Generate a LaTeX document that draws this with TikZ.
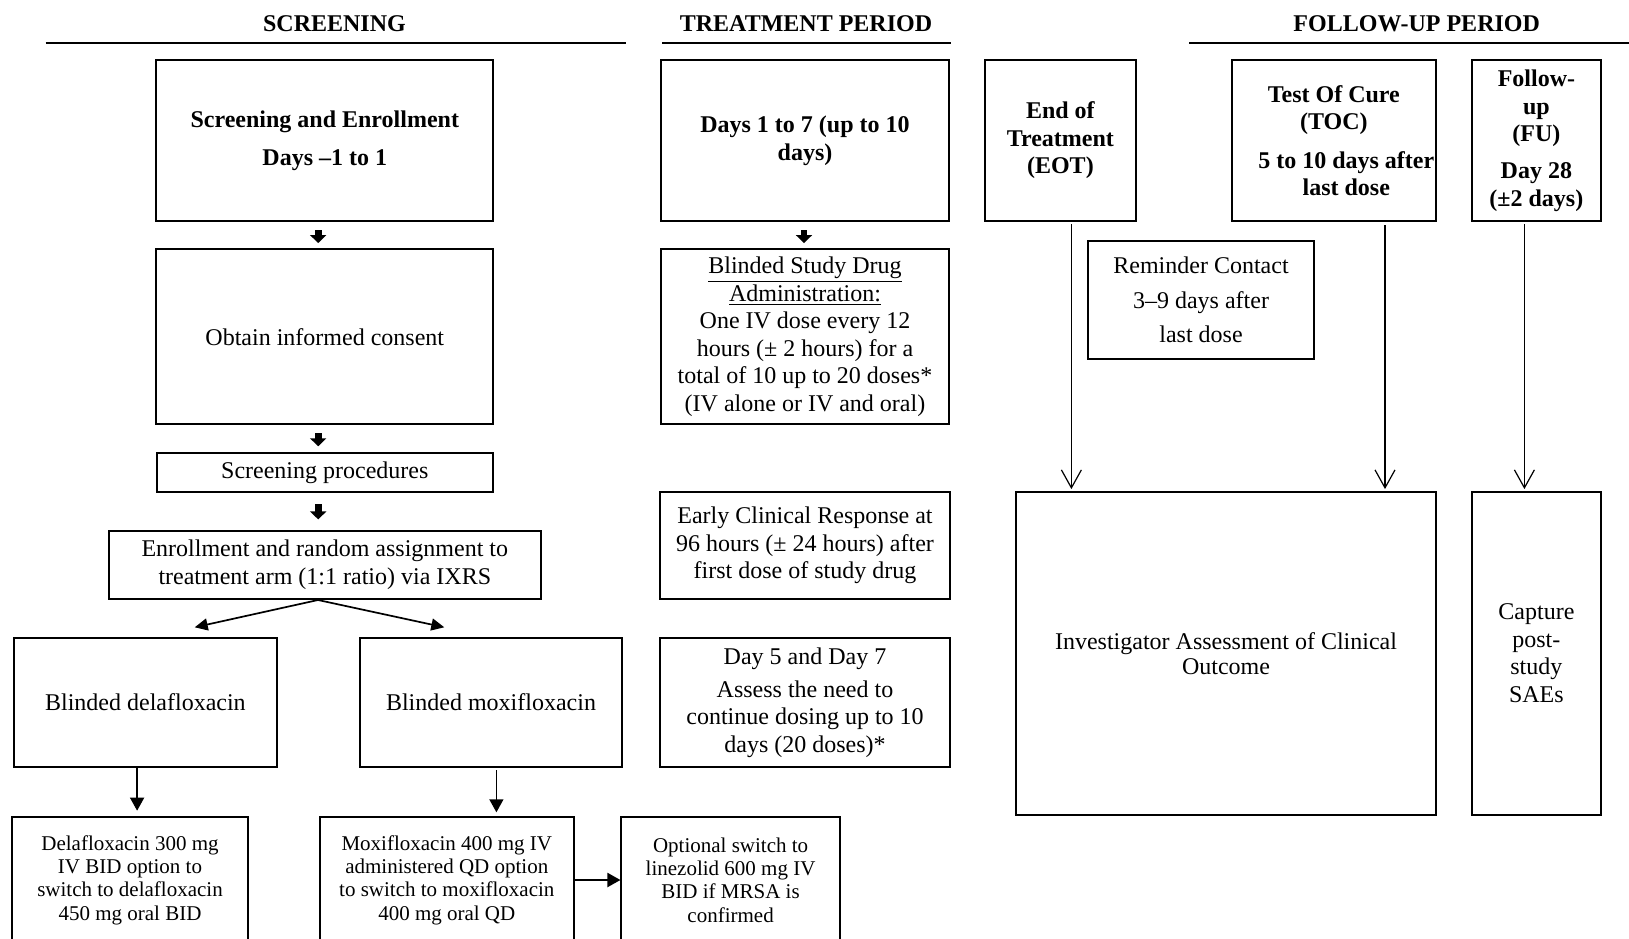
\documentclass[tikz,border=0pt]{standalone}
\usepackage{fontspec}
\setmainfont{Liberation Serif}
\usetikzlibrary{positioning, arrows.meta}

\begin{document}
\begin{tikzpicture}[x=0.5pt, y=-0.5pt, on grid,
    box/.style={draw, line width=1pt, align=center, inner sep=0pt, font=\fontsize{12}{13.8}\selectfont},
    bbox/.style={box, font=\fontsize{12}{13.8}\selectfont\bfseries},
    sbox/.style={box, font=\fontsize{10.5}{11.65}\selectfont},
    head/.style={font=\fontsize{12}{13.8}\selectfont\bfseries},
    rule/.style={line width=1.1pt},
    blk/.style={line width=3.4pt, -{Triangle[width=8pt,length=4pt]}},
    solid arrow/.style={line width=0.75pt, -{Triangle[width=7pt,length=6.5pt]}},
    split arrow/.style={line width=0.85pt, -{Triangle[width=6pt,length=6.5pt]}},
    open arrow/.style={line width=0.6pt, -{Straight Barb[length=9pt,width=10pt]}}]
    \useasboundingbox (0,0) rectangle (1629,938);

    % Headers
    \node[head] (hscr) at (334.5,24) {SCREENING};
    \node[head] (htrt) at (806,24) {TREATMENT PERIOD};
    \node[head] (hfu) at (1416.7,24) {FOLLOW-UP PERIOD};
    \draw[rule] (45.5,43.3) -- (625.5,43.3);
    \draw[rule] (662,43.3) -- (950.7,43.3);
    \draw[rule] (1189,43.3) -- (1629,43.3);

    % Screening column
    \node[bbox, minimum width=168.4pt, minimum height=80.5pt] (scr) at (324.8,140.5)
        {Screening and Enrollment\\[5.2pt]Days –1 to 1};
    \node[box, minimum width=168.4pt, minimum height=87.35pt] (consent) [below=98.1pt of scr]
        {Obtain informed consent};
    \node[box, minimum width=167.9pt, minimum height=19.8pt] (proc) [below=67.9pt of consent]
        {Screening procedures};
    \node[box, minimum width=216.2pt, minimum height=34pt] (enrol) [below=46.25pt of proc]
        {Enrollment and random assignment to\\treatment arm (1:1 ratio) via IXRS};
    \node[box, minimum width=131.65pt, minimum height=64.2pt] (dela) [below left=68.75pt and 89.7pt of enrol]
        {Blinded delafloxacin};
    \node[box, minimum width=130.55pt, minimum height=64.2pt] (moxi) [right=172.8pt of dela]
        {Blinded moxifloxacin};
    \node[sbox, minimum width=118pt, minimum height=63.3pt] (dela300) [below=88.75pt of dela, xshift=-7.7pt]
        {Delafloxacin 300 mg\\IV BID option to\\switch to delafloxacin\\450 mg oral BID};
    \node[sbox, minimum width=127pt, minimum height=63.3pt] (moxi400) [below=88.75pt of moxi, xshift=-22.1pt]
        {Moxifloxacin 400 mg IV\\administered QD option\\to switch to moxifloxacin\\400 mg oral QD};
    \node[sbox, minimum width=109.15pt, minimum height=63.3pt] (linez) [right=141.9pt of moxi400]
        {Optional switch to\\linezolid 600 mg IV\\BID if MRSA is\\confirmed};

    % Treatment column
    \node[bbox, minimum width=144.3pt, minimum height=80.5pt] (days) at (805,140.5)
        {Days 1 to 7 (up to 10\\days)};
    \node[box, minimum width=144.15pt, minimum height=87.35pt] (admin) [below=98.1pt of days]
        {\underline{Blinded Study Drug}\\\underline{Administration:}\\One IV dose every 12\\hours (± 2 hours) for a\\total of 10 up to 20 doses*\\(IV alone or IV and oral)};
    \node[box, minimum width=145pt, minimum height=53.65pt] (ecr) [below=104.3pt of admin]
        {Early Clinical Response at\\96 hours (± 24 hours) after\\first dose of study drug};
    \node[box, minimum width=145pt, minimum height=64.2pt] (day57) [below=78.6pt of ecr]
        {Day 5 and Day 7\\[2.7pt]Assess the need to\\continue dosing up to 10\\days (20 doses)*};

    % Follow-up column
    \node[bbox, minimum width=75.6pt, minimum height=80.5pt] (eot) at (1060.4,140.5)
        {End of\\Treatment\\(EOT)};
    \node[bbox, minimum width=102.15pt, minimum height=80.5pt] (toc) [right=136.7pt of eot]
        {Test Of Cure\\(TOC)\\[5.4pt]\hspace*{12.5pt}5 to 10 days after\\\hspace*{12.5pt}last dose};
    \node[bbox, minimum width=64.8pt, minimum height=80.5pt] (fu) [right=101.3pt of toc]
        {Follow-\\up\\(FU)\\[4.6pt]Day 28\\(±2 days)};
    \node[box, minimum width=113pt, minimum height=59.3pt] (remind) at (1201,300)
        {Reminder Contact\\[3.45pt]3–9 days after\\[3.45pt]last dose};
    \node[box, minimum width=210pt, minimum height=161.65pt] (inv) at (1226,653.35)
        {Investigator Assessment of Clinical\\[-1.3pt]Outcome};
    \node[box, minimum width=64.8pt, minimum height=161.65pt] (sae) [below=256.4pt of fu]
        {Capture\\post-\\study\\SAEs};

    % Arrows
    \path[blk]
        ([xshift=-3.3pt]scr.south) edge[shorten <=4pt, shorten >=2.65pt] ([xshift=-3.3pt]consent.north)
        ([xshift=-3.3pt]consent.south) edge[shorten <=4pt, shorten >=2.7pt] ([xshift=-3.3pt]proc.north)
        ([xshift=-3.3pt]proc.south) edge[shorten <=5.5pt, shorten >=5.3pt] ([xshift=-3.3pt]enrol.north)
        ([xshift=-0.5pt]days.south) edge[shorten <=4pt, shorten >=2.65pt] ([xshift=-0.5pt]admin.north);

    \path[split arrow]
        ([xshift=-3.4pt]enrol.south) edge ([xshift=24.65pt, yshift=5pt]dela.north)
                                     edge ([xshift=-23.35pt, yshift=5pt]moxi.north);

    \path[solid arrow]
        ([xshift=-4.15pt]dela.south) edge[shorten >=2.5pt] ([xshift=-4.15pt]dela.south |- dela300.north)
        ([xshift=2.7pt]moxi.south) edge[shorten <=1.3pt, shorten >=1.7pt] ([xshift=2.7pt]moxi.south |- moxi400.north)
        (moxi400.east) edge[line width=1pt] (linez.west);

    \path[open arrow]
        ([xshift=5.5pt]eot.south) edge[shorten <=1pt, shorten >=0.8pt] ([xshift=5.5pt]eot.south |- inv.north)
        ([xshift=25.6pt]toc.south) edge[shorten <=1.5pt, shorten >=0.8pt] ([xshift=25.6pt]toc.south |- inv.north)
        ([xshift=-6pt]fu.south) edge[shorten <=1pt, shorten >=0.8pt] ([xshift=-6pt]fu.south |- sae.north);
\end{tikzpicture}
\end{document}
